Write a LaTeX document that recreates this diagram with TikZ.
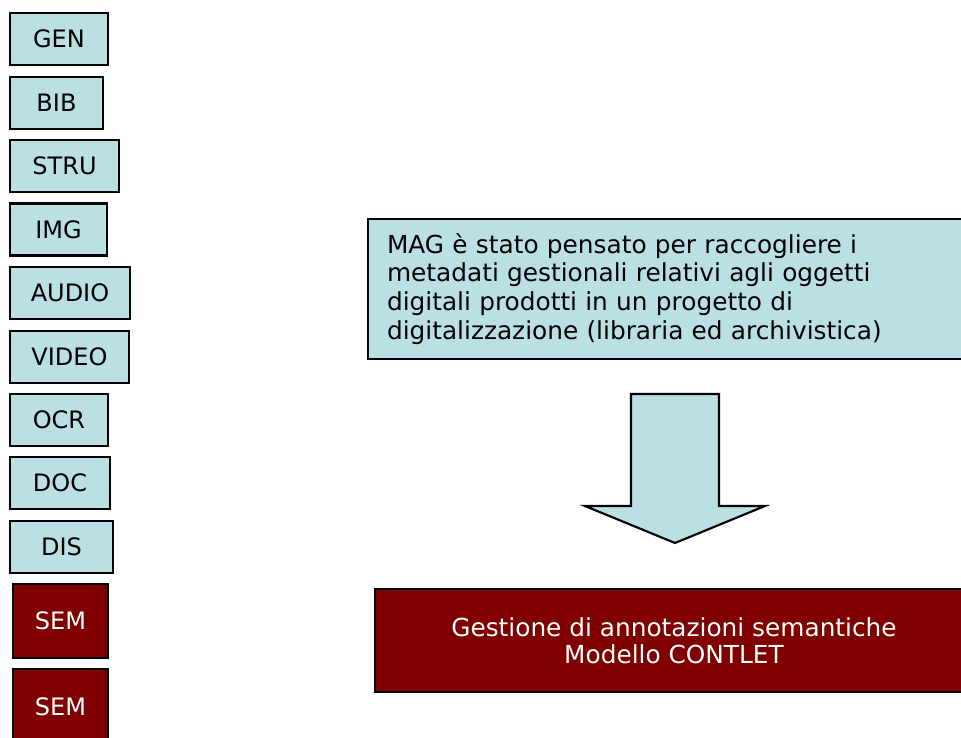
\documentclass[tikz,border=0pt]{standalone}
\usepackage{fontspec}
\setmainfont{DejaVu Sans}
\definecolor{magblue}{RGB}{187,224,227}
\definecolor{semred}{RGB}{128,0,0}

\begin{document}
\begin{tikzpicture}[x=0.75pt, y=-0.75pt,
  font=\fontsize{18}{21}\selectfont,
  tag/.style={draw, fill=magblue, line width=2pt, minimum height=52*0.75pt, inner sep=0pt},
  sem/.style={draw, fill=semred, text=white, line width=2pt, inner sep=0pt}]

\useasboundingbox (0,0) rectangle (961,738);
\clip (0,0) rectangle (961,738);

% sezioni MAG
\foreach \name/\txt/\w/\cy in {gen/GEN/98/39, bib/BIB/93/103, stru/STRU/109/166,
  img/IMG/97/229.5, audio/AUDIO/120/293, video/VIDEO/119/357,
  ocr/OCR/98/420, doc/DOC/100/483, dis/DIS/103/547}{
\node[tag, minimum width=\w*0.75pt] (\name) at (10+\w/2,\cy) {\txt};
}

\node[sem, minimum width=95*0.75pt, minimum height=74*0.75pt] (sema) at (60.5,621) {SEM};
\node[sem, minimum width=95*0.75pt, minimum height=76*0.75pt] (semb) at (60.5,707) {SEM};

% descrizione
\node[draw, fill=magblue, line width=2pt, text width=426.75pt, align=left,
  inner xsep=14.25pt, inner ysep=0pt, minimum height=105pt,
  font=\fontsize{18.6}{21.6}\selectfont] (mag) at (671.5,289)
  {MAG è stato pensato per raccogliere i\\
   metadati gestionali relativi agli oggetti\\
   digitali prodotti in un progetto di\\
   digitalizzazione (libraria ed archivistica)};

\draw[fill=magblue, line width=1.6pt] (631,394) -- (719,394) -- (719,506) -- (765,506)
  -- (675,543) -- (585,506) -- (631,506) -- cycle;

\node[sem, minimum width=598*0.75pt, minimum height=103*0.75pt, align=center,
  font=\fontsize{18.6}{20.5}\selectfont] (contlet) at (674,640.5)
  {Gestione di annotazioni semantiche\\ Modello CONTLET};

\end{tikzpicture}
\end{document}
